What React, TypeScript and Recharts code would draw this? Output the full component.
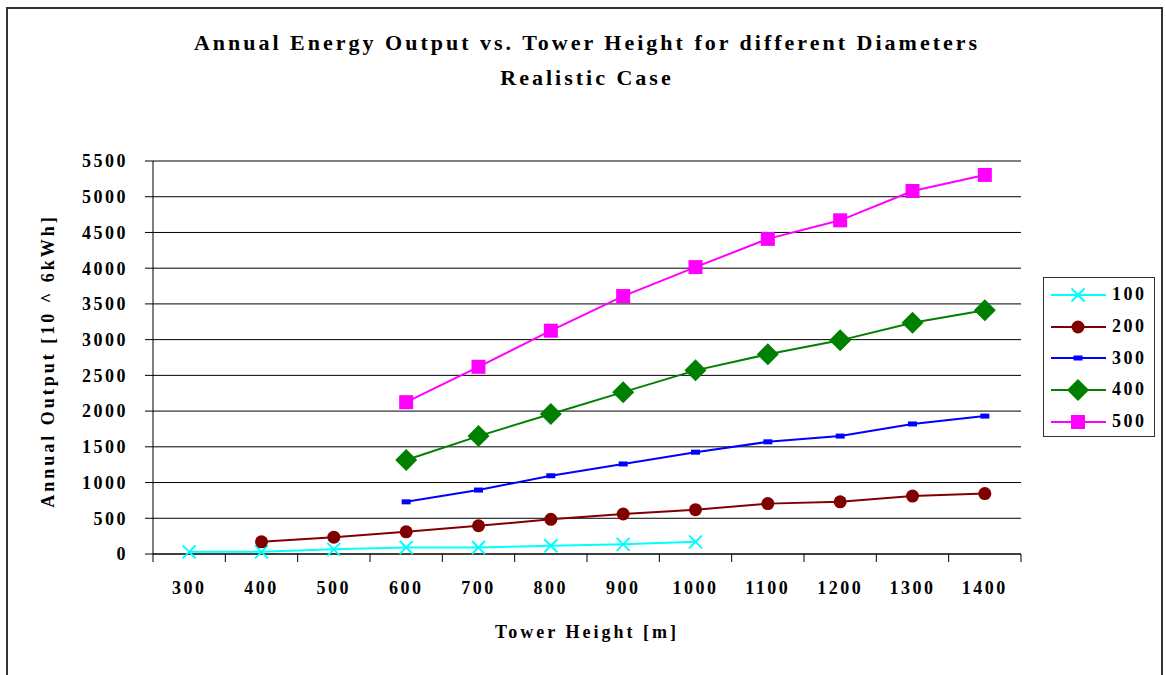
import { LineChart, Line, XAxis, YAxis, CartesianGrid, Legend } from "recharts";

// tower heights [m]
const heights = [300, 400, 500, 600, 700, 800, 900, 1000, 1100, 1200, 1300, 1400];

// annual output [10^6 kWh] per diameter
const d100 = [30, 30, 65, 90, 90, 115, 135, 170, null, null, null, null];
const d200 = [null, 170, 235, 310, 395, 485, 560, 620, 705, 730, 810, 845];
const d300 = [null, null, null, 730, 895, 1095, 1260, 1425, 1570, 1650, 1820, 1930];
const d400 = [null, null, null, 1315, 1650, 1960, 2265, 2570, 2795, 2990, 3235, 3410];
const d500 = [null, null, null, 2125, 2620, 3125, 3610, 4015, 4410, 4670, 5080, 5305];

const seriesNames = ["100", "200", "300", "400", "500"];
const seriesValues = [d100, d200, d300, d400, d500];
const seriesColors = ["#00FFFF", "#800000", "#0000FF", "#008000", "#FF00FF"];
const seriesMarkers = ["x", "circle", "bar", "diamond", "square"];

const yTicks = [0, 500, 1000, 1500, 2000, 2500, 3000, 3500, 4000, 4500, 5000, 5500];

const data = heights.map((h, i) => {
    const row: Record<string, number | null> = { height: h };
    seriesNames.forEach((name, s) => {
        row[name] = seriesValues[s][i];
    });
    return row;
});

// drop the default body margin so the chart can use the whole window
if (typeof document !== "undefined") {
    document.body.style.margin = "0";
}

const W = 1166;
const H = 675;
const PLOT_LEFT = 153;
const PLOT_RIGHT = 1021;
const PLOT_TOP = 161;
const PLOT_BOTTOM = 554;
const BAND = (PLOT_RIGHT - PLOT_LEFT) / heights.length;
const FONT = "'Liberation Serif', 'Times New Roman', serif";

function Marker({ kind, color, cx, cy }: { kind: string; color: string; cx: number; cy: number }) {
    switch (kind) {
        case "x":
            return (
                <path
                    d={`M${cx - 6.5},${cy - 6.5}L${cx + 6.5},${cy + 6.5}M${cx - 6.5},${cy + 6.5}L${cx + 6.5},${cy - 6.5}`}
                    stroke={color}
                    strokeWidth={2}
                    fill="none"
                />
            );
        case "circle":
            return <circle cx={cx} cy={cy} r={6.5} fill={color} />;
        case "bar":
            return <rect x={cx - 4.5} y={cy - 2.5} width={9} height={5} fill={color} />;
        case "diamond":
            return (
                <polygon
                    points={`${cx},${cy - 11} ${cx + 11},${cy} ${cx},${cy + 11} ${cx - 11},${cy}`}
                    fill={color}
                />
            );
        default:
            return <rect x={cx - 7} y={cy - 7} width={14} height={14} fill={color} />;
    }
}

function XTick(props: any) {
    const { x, payload, index } = props;
    const last = index === heights.length - 1;
    return (
        <g>
            <line x1={x - BAND / 2} x2={x - BAND / 2} y1={PLOT_BOTTOM} y2={PLOT_BOTTOM + 8} stroke="#000" />
            {last && (
                <line x1={x + BAND / 2} x2={x + BAND / 2} y1={PLOT_BOTTOM} y2={PLOT_BOTTOM + 8} stroke="#000" />
            )}
            <text
                x={x}
                y={PLOT_BOTTOM + 40}
                textAnchor="middle"
                fontFamily={FONT}
                fontWeight="bold"
                fontSize={18}
                letterSpacing={2.5}
                fill="#000"
            >
                {payload.value}
            </text>
        </g>
    );
}

function LegendBox(props: any) {
    const payload = props.payload || [];
    return (
        <div
            style={{
                width: 112,
                height: 160,
                border: "1px solid #333",
                boxSizing: "border-box",
                background: "#fff",
                paddingTop: 1,
            }}
        >
            {payload.map((entry: any) => {
                const s = seriesNames.indexOf(String(entry.dataKey));
                return (
                    <div key={entry.dataKey} style={{ display: "flex", alignItems: "center", height: 31.7 }}>
                        <svg width={68} height={26} style={{ display: "block" }}>
                            <line x1={7} x2={62} y1={13} y2={13} stroke={seriesColors[s]} strokeWidth={2} />
                            <Marker kind={seriesMarkers[s]} color={seriesColors[s]} cx={34} cy={13} />
                        </svg>
                        <span
                            style={{
                                fontFamily: FONT,
                                fontWeight: "bold",
                                fontSize: 18,
                                letterSpacing: 2.5,
                                color: "#000",
                            }}
                        >
                            {entry.value}
                        </span>
                    </div>
                );
            })}
        </div>
    );
}

export default function App() {
    return (
        <div
            style={{
                position: "relative",
                width: W,
                height: H,
                overflow: "hidden",
                background: "#fff",
            }}
        >
            <div style={{ position: "absolute", left: 0, top: 0 }}>
                <LineChart
                    width={W}
                    height={H}
                    data={data}
                    margin={{ top: PLOT_TOP, right: W - PLOT_RIGHT, bottom: 0, left: 0 }}
                >
                    <CartesianGrid vertical={false} stroke="#000" />
                    <XAxis
                        dataKey="height"
                        type="category"
                        scale="band"
                        height={H - PLOT_BOTTOM}
                        interval={0}
                        tickLine={false}
                        axisLine={{ stroke: "#000" }}
                        tick={<XTick />}
                        label={{
                            content: () => (
                                <text
                                    x={(PLOT_LEFT + PLOT_RIGHT) / 2}
                                    y={PLOT_BOTTOM + 84}
                                    textAnchor="middle"
                                    fontFamily={FONT}
                                    fontWeight="bold"
                                    fontSize={18}
                                    letterSpacing={3}
                                    fill="#000"
                                >
                                    Tower Height [m]
                                </text>
                            ),
                        }}
                    />
                    <YAxis
                        width={PLOT_LEFT}
                        domain={[0, 5500]}
                        ticks={yTicks}
                        interval={0}
                        tickSize={8}
                        tickMargin={17}
                        tickLine={{ stroke: "#000" }}
                        axisLine={{ stroke: "#000" }}
                        tick={{ fontFamily: FONT, fontWeight: "bold", fontSize: 18, letterSpacing: 2.5, fill: "#000" }}
                        label={{
                            content: () => (
                                <text
                                    x={48}
                                    y={361}
                                    transform="rotate(-90, 48, 361)"
                                    textAnchor="middle"
                                    dominantBaseline="central"
                                    fontFamily={FONT}
                                    fontWeight="bold"
                                    fontSize={18}
                                    letterSpacing={3}
                                    fill="#000"
                                >
                                    Annual Output [10 ^ 6kWh]
                                </text>
                            ),
                        }}
                    />
                    <Legend
                        layout="horizontal"
                        verticalAlign="middle"
                        align="center"
                        content={<LegendBox />}
                        wrapperStyle={{ left: 1043, top: 277, width: 112, height: 160 }}
                    />
                    {seriesNames.map((name, s) => (
                        <Line
                            key={name}
                            type="linear"
                            dataKey={name}
                            name={name}
                            stroke={seriesColors[s]}
                            strokeWidth={2}
                            isAnimationActive={false}
                            dot={(p: any) =>
                                p.cx == null || p.cy == null || p.value == null ? (
                                    <g key={`${name}-${p.index}`} />
                                ) : (
                                    <Marker
                                        key={`${name}-${p.index}`}
                                        kind={seriesMarkers[s]}
                                        color={seriesColors[s]}
                                        cx={p.cx}
                                        cy={p.cy}
                                    />
                                )
                            }
                            activeDot={false}
                        />
                    ))}
                </LineChart>
            </div>
            <svg
                width={W}
                height={H}
                style={{ position: "absolute", left: 0, top: 0, pointerEvents: "none" }}
            >
                {/* outer frame */}
                <rect x={6} y={7} width={1157} height={2} fill="#333" />
                <rect x={6} y={7} width={2} height={H} fill="#333" />
                <rect x={1161} y={7} width={2} height={H} fill="#333" />
                <text x={587} y={50} textAnchor="middle" fontFamily={FONT} fontWeight="bold" fontSize={22} letterSpacing={3}>
                    Annual Energy Output vs. Tower Height for different Diameters
                </text>
                <text x={587} y={85} textAnchor="middle" fontFamily={FONT} fontWeight="bold" fontSize={22} letterSpacing={3}>
                    Realistic Case
                </text>
            </svg>
        </div>
    );
}
